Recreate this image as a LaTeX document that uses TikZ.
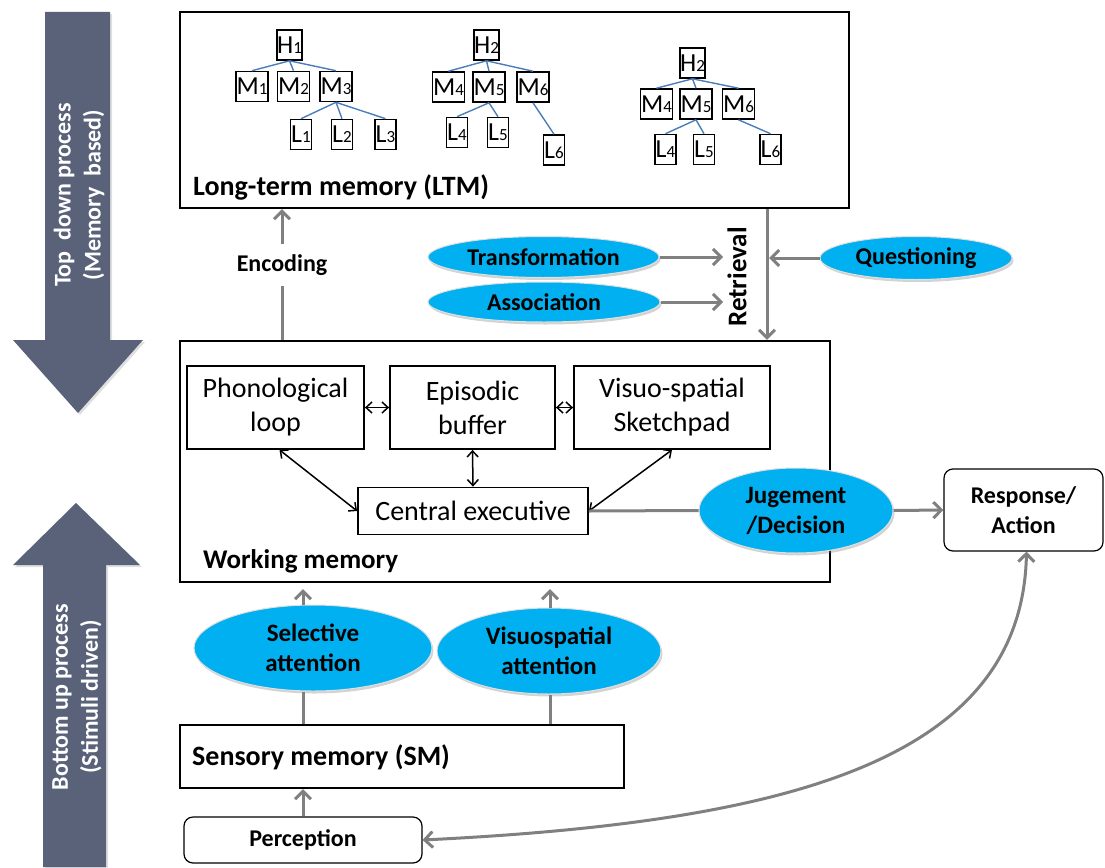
\documentclass[tikz,border=0pt]{standalone}
\usepackage{fontspec}
\setmainfont{Carlito}
\usetikzlibrary{arrows.meta,shapes.geometric,shadows,calc}
\definecolor{slate}{RGB}{89,98,121}
\definecolor{cyanb}{RGB}{0,176,240}
\definecolor{treeblue}{RGB}{74,126,187}
\definecolor{garr}{RGB}{128,128,128}
\newcommand\fsz[2]{\fontsize{#1}{#2}\selectfont}
\newcommand\smdig[1]{{\fsz{17}{17}#1}}
\tikzset{
  bigbox/.style={draw=black, line width=2.2pt, inner sep=0pt},
  tbox/.style={draw=black, line width=1.6pt, fill=white, inner sep=0pt, minimum height=30pt, font=\fsz{26}{26}},
  tline/.style={draw=treeblue, line width=1.4pt},
  ibox/.style={draw=black, line width=1.8pt, inner sep=0pt, align=center, font=\fsz{28}{34}},
  lab/.style={anchor=west, inner sep=0pt, font=\bfseries\fsz{28}{34}},
  oval/.style={ellipse, fill=cyanb, draw=white!75!gray, line width=1pt, inner sep=0pt, align=center,
     font=\bfseries\fsz{24}{30}, drop shadow={opacity=0.35, shadow xshift=1.5pt, shadow yshift=-2.5pt}},
  rbox/.style={draw=black, line width=1.2pt, rounded corners=9pt, inner sep=0pt, align=center, font=\bfseries\fsz{24}{30}},
  gline/.style={draw=garr, line width=3pt},
  garrow/.style={gline, -{Straight Barb[length=8pt,width=16pt]}},
  dbl/.style={draw=black, line width=1.5pt, {Straight Barb[length=6pt,width=11pt]}-{Straight Barb[length=6pt,width=11pt]}},
  bigtext/.style={rotate=90, text=white, align=center, font=\bfseries\fsz{24}{30}}
}
\begin{document}
\begin{tikzpicture}[x=1pt,y=-1pt]
\useasboundingbox (0,0) rectangle (1105,867);

% big process arrows
\fill[slate, drop shadow={opacity=0.25, shadow xshift=2pt, shadow yshift=-2pt}]
  (45,12) -- (110,12) -- (110,340) -- (143,340) -- (78,413) -- (13,340) -- (45,340) -- cycle;
\node[bigtext] (tdtext) at (79,195) {Top\ \ down process\\(Memory\ \ based)};
\fill[slate, drop shadow={opacity=0.25, shadow xshift=2pt, shadow yshift=-2pt}]
  (43,867) -- (106,867) -- (106,565) -- (140,565) -- (76,503) -- (13,565) -- (43,565) -- cycle;
\node[bigtext] (butext) at (77,697) {Bottom up process\\(Stimuli driven)};

% Long-term memory
\node[bigbox, minimum width=669pt, minimum height=196pt] (ltm) at (514.5,110) {};
\node[lab] (ltmlab) at (193,187) {Long-term memory (LTM)};

% tree 1
\node[tbox, minimum width=25pt] (h1) at (289.5,45) {H\smdig{1}};
\node[tbox, minimum width=32pt] (m1) at (252,86.5) {M\smdig{1}};
\node[tbox, minimum width=32pt] (m2) at (293.5,86.5) {M\smdig{2}};
\node[tbox, minimum width=32pt] (m3) at (336,86.5) {M\smdig{3}};
\node[tbox, minimum width=21pt] (l1) at (301,134.5) {L\smdig{1}};
\node[tbox, minimum width=21pt] (l2) at (342,134.5) {L\smdig{2}};
\node[tbox, minimum width=21pt] (l3) at (385.5,134.5) {L\smdig{3}};
\draw[tline] (h1.south) -- (m1.north);
\draw[tline] (h1.south) -- (m2.north);
\draw[tline] (h1.south) -- (m3.north);
\draw[tline] (m3.south) -- (l1.north);
\draw[tline] (m3.south) -- (l2.north);
\draw[tline] (m3.south) -- (l3.north);

% tree 2
\node[tbox, minimum width=25pt] (h2) at (486.5,45) {H\smdig{2}};
\node[tbox, minimum width=32pt] (m4) at (448.5,87) {M\smdig{4}};
\node[tbox, minimum width=32pt] (m5) at (489,87) {M\smdig{5}};
\node[tbox, minimum width=32pt] (m6) at (533,87) {M\smdig{6}};
\node[tbox, minimum width=21pt] (l4) at (457,132.5) {L\smdig{4}};
\node[tbox, minimum width=21pt] (l5) at (498,132.5) {L\smdig{5}};
\node[tbox, minimum width=21pt] (l6) at (554,150) {L\smdig{6}};
\draw[tline] (h2.south) -- (m4.north);
\draw[tline] (h2.south) -- (m5.north);
\draw[tline] (h2.south) -- (m6.north);
\draw[tline] (m5.south) -- (l4.north);
\draw[tline] (m5.south) -- (l5.north);
\draw[tline] (m6.south) -- (l6.north);

% tree 3
\node[tbox, minimum width=25pt] (h2b) at (692.5,63) {H\smdig{2}};
\node[tbox, minimum width=32pt] (m4b) at (656.5,104) {M\smdig{4}};
\node[tbox, minimum width=32pt] (m5b) at (696,104) {M\smdig{5}};
\node[tbox, minimum width=32pt] (m6b) at (738.5,104) {M\smdig{6}};
\node[tbox, minimum width=21pt] (l4b) at (665.5,149.5) {L\smdig{4}};
\node[tbox, minimum width=21pt] (l5b) at (704,149.5) {L\smdig{5}};
\node[tbox, minimum width=21pt] (l6b) at (770.5,149.5) {L\smdig{6}};
\draw[tline] (h2b.south) -- (m4b.north);
\draw[tline] (h2b.south) -- (m5b.north);
\draw[tline] (h2b.south) -- (m6b.north);
\draw[tline] (m5b.south) -- (l4b.north);
\draw[tline] (m5b.south) -- (l5b.north);
\draw[tline] (m6b.south) -- (l6b.north);

% Working memory
\node[bigbox, minimum width=650pt, minimum height=241pt] (wm) at (505,461.5) {};
\node[lab, font=\bfseries\fsz{27}{34}] (wmlab) at (203,561) {Working memory};
\node[ibox, minimum width=177pt, minimum height=83pt] (phono) at (275.5,407.5) {Phonological\\loop};
\node[ibox, minimum width=165pt, minimum height=83pt] (epi) at (472.5,407.5) {Episodic\\buffer};
\node[ibox, minimum width=196pt, minimum height=83pt] (visuo) at (672,407.5) {Visuo-spatial\\Sketchpad};
\node[ibox, minimum width=230pt, minimum height=47pt] (ce) at (473,511) {Central executive};
\draw[dbl] (phono.east) -- (epi.west);
\draw[dbl] (epi.east) -- (visuo.west);
\draw[dbl] (epi.south) -- (ce.north);
\draw[dbl] ([xshift=4pt]phono.south) -- (ce.west);
\draw[dbl] (visuo.south) -- (ce.east);

% between LTM and WM
\node[inner sep=0pt, minimum height=42pt, font=\bfseries\fsz{24}{30}] (enc) at (282,265) {Encoding};
\draw[garrow] (enc.north) -- (enc.north |- ltm.south);
\draw[gline] (enc.south |- wm.north) -- (enc.south);

\coordinate (rx) at (767,0);
\draw[garrow] (rx |- ltm.south) -- (rx |- wm.north);
\node[rotate=90, inner sep=0pt, font=\bfseries\fsz{27}{30}] (ret) at (737,277) {Retrieval};

\node[oval, minimum width=231pt, minimum height=41pt] (trans) at (543.5,257) {Transformation};
\node[oval, minimum width=232pt, minimum height=40pt] (assoc) at (544,302) {Association};
\node[oval, minimum width=192pt, minimum height=43pt] (ques) at (916,258) {Questioning};
\coordinate (tend) at (723,0);
\draw[garrow] (trans.east) -- (tend |- trans.east);
\draw[garrow] (assoc.east) -- (tend |- assoc.east);
\draw[garrow] (ques.west) -- ([xshift=2pt]rx |- ques.west);

% Judgement / response
\node[oval, minimum width=194pt, minimum height=85pt, font=\bfseries\fsz{25}{30}] (jd) at (796,510.5) {Jugement\\/Decision};
\node[rbox, minimum width=159pt, minimum height=82pt] (resp) at (1023.5,510) {Response/\\Action};
\draw[gline] (ce.east) -- (jd.west);
\draw[garrow] (jd.east) -- (resp.west);

% Sensory memory and attention
\node[bigbox, minimum width=444pt, minimum height=63pt] (sm) at (402,756.5) {};
\node[lab] (smlab) at (192,757) {Sensory memory (SM)};
\node[rbox, minimum width=238pt, minimum height=46pt] (perc) at (303,840) {Perception};
\node[oval, minimum width=238pt, minimum height=86pt, font=\bfseries\fsz{25}{30}] (sa) at (313,648) {Selective\\attention};
\node[oval, minimum width=224pt, minimum height=86pt, font=\bfseries\fsz{25}{30}] (va) at (549,651) {Visuospatial\\attention};
\coordinate (vx) at (550,0);
\draw[garrow] (perc.north) -- (perc.north |- sm.south);
\draw[gline] (perc.north |- sm.north) -- (perc.north |- sa.south);
\draw[garrow, shorten >=6pt] (perc.north |- sa.north) -- (perc.north |- wm.south);
\draw[gline] (vx |- sm.north) -- (vx |- va.south);
\draw[garrow, shorten >=6pt] (vx |- va.north) -- (vx |- wm.south);

% feedback curve
\draw[gline, {Straight Barb[length=8pt,width=16pt]}-{Straight Barb[length=8pt,width=16pt]}]
  (perc.east) .. controls (790,822) and (1022,760) .. ([xshift=3pt]resp.south);
\end{tikzpicture}
\end{document}
